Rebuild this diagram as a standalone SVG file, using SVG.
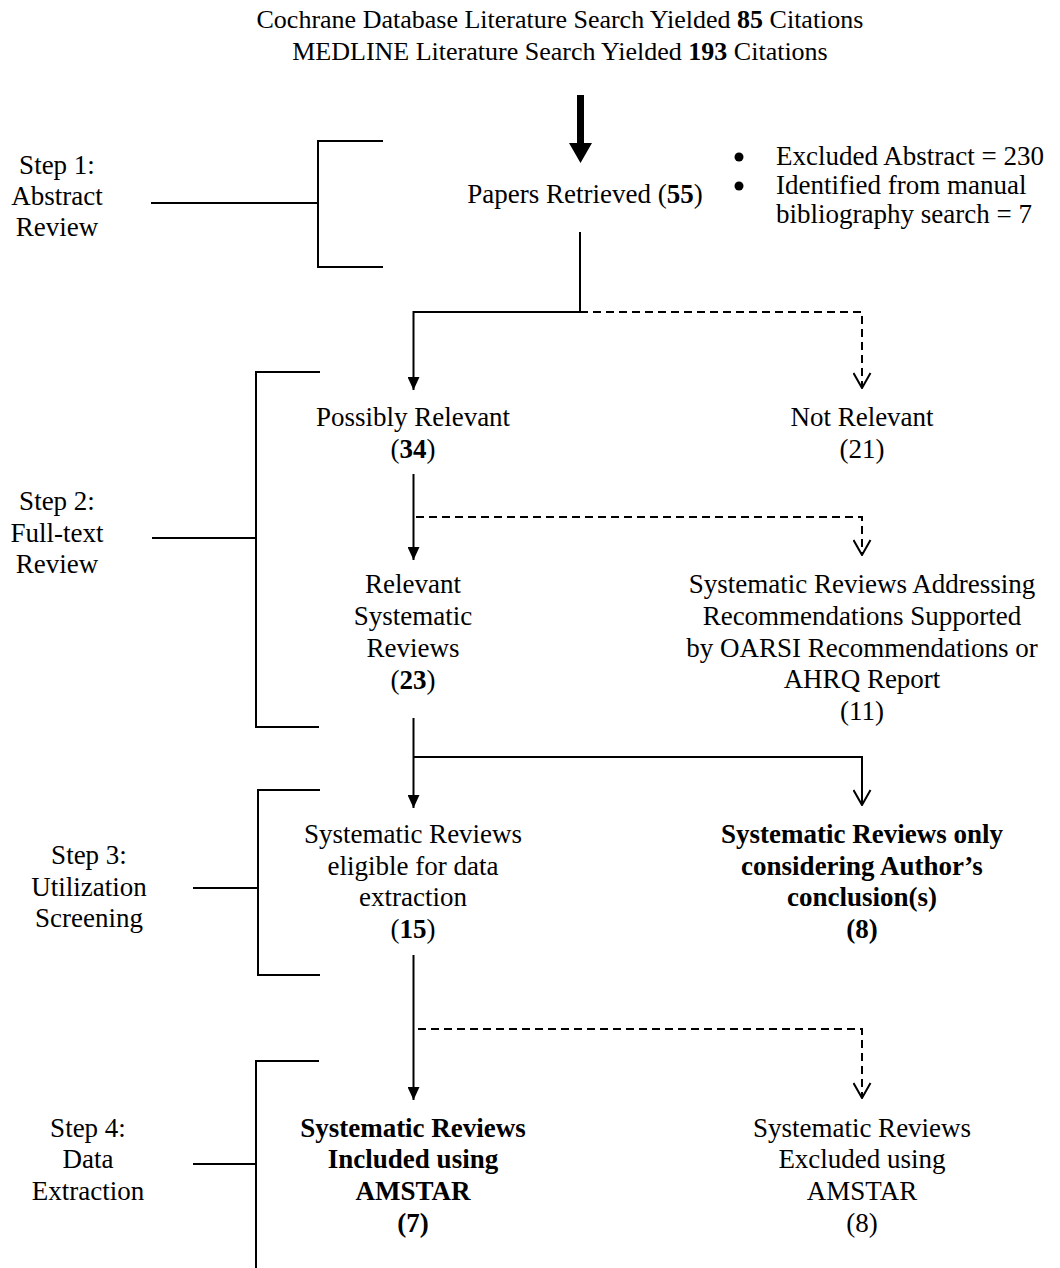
<svg xmlns="http://www.w3.org/2000/svg" width="1060" height="1268" viewBox="0 0 1060 1268">
<style>
text{font-family:"Liberation Serif","Times New Roman",serif;font-size:27px;fill:#000;text-anchor:middle}
.t{font-size:26px}
.b{font-weight:bold}
.l{text-anchor:start}
.ln{fill:none;stroke:#000;stroke-width:2}
.d{stroke-dasharray:8 5}
</style>
<defs>
<marker id="af" viewBox="0 0 13 12" refX="13" refY="6" markerWidth="13" markerHeight="12" markerUnits="userSpaceOnUse" orient="auto">
<path d="M0,0 L13,6 L0,12 z" fill="#000"/>
</marker>
<marker id="ao" viewBox="-1 -1 17 19" refX="15" refY="8.5" markerWidth="17" markerHeight="19" markerUnits="userSpaceOnUse" orient="auto">
<path d="M0,0 L15,8.5 L0,17" fill="none" stroke="#000" stroke-width="2" stroke-dasharray="none"/>
</marker>
</defs>
<rect width="1060" height="1268" fill="#fff"/>

<g id="source">
<text class="t" x="560" y="28">Cochrane Database Literature Search Yielded <tspan class="b">85</tspan> Citations</text>
<text class="t" x="560" y="60">MEDLINE Literature Search Yielded <tspan class="b">193</tspan> Citations</text>
</g>

<g id="step1">
<text x="57" y="174">Step 1:</text>
<text x="57" y="205">Abstract</text>
<text x="57" y="236">Review</text>
</g>
<g id="step2">
<text x="57" y="510">Step 2:</text>
<text x="57" y="542">Full-text</text>
<text x="57" y="573">Review</text>
</g>
<g id="step3">
<text x="89" y="864">Step 3:</text>
<text x="89" y="896">Utilization</text>
<text x="89" y="927">Screening</text>
</g>
<g id="step4">
<text x="88" y="1137">Step 4:</text>
<text x="88" y="1168">Data</text>
<text x="88" y="1200">Extraction</text>
</g>

<g id="papers">
<text x="585" y="203">Papers Retrieved (<tspan class="b">55</tspan>)</text>
</g>
<g id="excluded-note">
<circle cx="739" cy="157" r="4.5" fill="#000"/>
<circle cx="739" cy="186" r="4.5" fill="#000"/>
<text class="l" x="776" y="165">Excluded Abstract = 230</text>
<text class="l" x="776" y="194">Identified from manual</text>
<text class="l" x="776" y="223">bibliography search = 7</text>
</g>

<g id="possibly-relevant">
<text x="413" y="426">Possibly Relevant</text>
<text x="413" y="458">(<tspan class="b">34</tspan>)</text>
</g>
<g id="not-relevant">
<text x="862" y="426">Not Relevant</text>
<text x="862" y="458">(21)</text>
</g>

<g id="relevant-sr">
<text x="413" y="593">Relevant</text>
<text x="413" y="625">Systematic</text>
<text x="413" y="657">Reviews</text>
<text x="413" y="689">(<tspan class="b">23</tspan>)</text>
</g>
<g id="sr-addressing">
<text x="862" y="593">Systematic Reviews Addressing</text>
<text x="862" y="625">Recommendations Supported</text>
<text x="862" y="657">by OARSI Recommendations or</text>
<text x="862" y="688">AHRQ Report</text>
<text x="862" y="720">(11)</text>
</g>

<g id="sr-eligible">
<text x="413" y="843">Systematic Reviews</text>
<text x="413" y="875">eligible for data</text>
<text x="413" y="906">extraction</text>
<text x="413" y="938">(<tspan class="b">15</tspan>)</text>
</g>
<g id="sr-conclusions">
<text class="b" x="862" y="843">Systematic Reviews only</text>
<text class="b" x="862" y="875">considering Author’s</text>
<text class="b" x="862" y="906">conclusion(s)</text>
<text class="b" x="862" y="938">(8)</text>
</g>

<g id="sr-included">
<text class="b" x="413" y="1137">Systematic Reviews</text>
<text class="b" x="413" y="1168">Included using</text>
<text class="b" x="413" y="1200">AMSTAR</text>
<text class="b" x="413" y="1232">(7)</text>
</g>
<g id="sr-excluded">
<text x="862" y="1137">Systematic Reviews</text>
<text x="862" y="1168">Excluded using</text>
<text x="862" y="1200">AMSTAR</text>
<text x="862" y="1232">(8)</text>
</g>

<g id="connectors">
<path d="M577,95 H584 V143 H592 L580.5,163 L569,143 H577 z" fill="#000"/>
<path class="ln" d="M580,232 V312 H413.5 V390" marker-end="url(#af)"/>
<path class="ln d" d="M580,312 H862 V388" marker-end="url(#ao)"/>
<path class="ln" d="M413.5,474 V560" marker-end="url(#af)"/>
<path class="ln d" d="M416,517 H862 V555" marker-end="url(#ao)"/>
<path class="ln" d="M413.5,718 V808" marker-end="url(#af)"/>
<path class="ln" d="M413.5,757 H862 V805" marker-end="url(#ao)"/>
<path class="ln" d="M413.5,955 V1100" marker-end="url(#af)"/>
<path class="ln d" d="M418,1029 H862 V1098" marker-end="url(#ao)"/>
<path class="ln" d="M383,141 H318 V267 H383 M151,203 H318"/>
<path class="ln" d="M320,372 H256 V727 H319 M152,538 H256"/>
<path class="ln" d="M320,790 H258 V975 H320 M193,888 H258"/>
<path class="ln" d="M319,1061 H256 V1268 M193,1164 H256"/>
</g>
</svg>
